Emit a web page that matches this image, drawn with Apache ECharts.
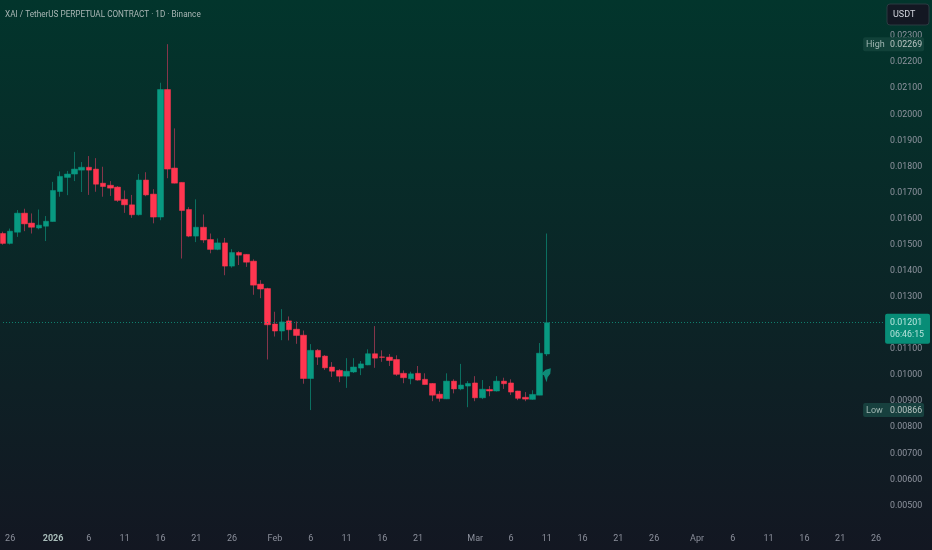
<!DOCTYPE html>
<html><head><meta charset="utf-8">
<style>html,body{margin:0;padding:0;background:#131722}#c{width:932px;height:550px}</style>
<script src="https://cdn.jsdelivr.net/npm/echarts@6/dist/echarts.min.js"></script>
</head><body><div id="c"></div>
<script>
// Daily bars, one per day, first bar = 25 Dec 2025
var openPrices = [.01543,.01505,.01548,.01621,.01583,.01564,.01571,.01589,.01704,.01758,.01771,.01786,.01797,.01790,.01736,.01728,.01721,.01674,.01653,.01615,.01748,.01694,.01606,.02095,.01794,.01739,.01635,.01533,.01567,.01520,.01482,.01507,.01418,.01470,.01463,.01437,.01349,.01332,.01196,.01169,.01208,.01176,.01153,.00987,.01095,.01073,.01031,.01018,.00996,.01012,.01027,.01039,.01082,.01070,.01069,.01060,.01007,.00986,.01007,.00984,.00968,.00927,.00909,.00977,.00947,.00958,.00970,.00913,.00945,.00939,.00977,.00970,.00939,.00915,.00907,.00923,.01081];
var closePrices = [.01505,.01552,.01621,.01580,.01567,.01575,.01590,.01708,.01762,.01771,.01790,.01797,.01786,.01732,.01723,.01717,.01670,.01653,.01615,.01748,.01691,.01606,.02095,.01790,.01736,.01631,.01533,.01567,.01518,.01482,.01507,.01418,.01470,.01460,.01433,.01345,.01330,.01193,.01169,.01204,.01174,.01152,.00987,.01095,.01069,.01028,.01015,.00996,.01015,.01031,.01043,.01082,.01065,.01068,.01056,.01003,.00990,.01005,.00981,.00964,.00923,.00911,.00977,.00947,.00962,.00968,.00913,.00946,.00939,.00977,.00967,.00935,.00911,.00908,.00926,.01084,.01201];
var lowPrices = [.01500,.01501,.01530,.01552,.01543,.01559,.01514,.01589,.01684,.01690,.01744,.01702,.01691,.01703,.01684,.01687,.01664,.01622,.01603,.01612,.01686,.01582,.01594,.01755,.01735,.01447,.01529,.01510,.01507,.01467,.01479,.01383,.01412,.01422,.01415,.01308,.01295,.01060,.01148,.01134,.01133,.01120,.00967,.00866,.01039,.01020,.00993,.00973,.00951,.01008,.01000,.01038,.01028,.01051,.01035,.00997,.00969,.00965,.00979,.00964,.00900,.00898,.00908,.00930,.00942,.00877,.00900,.00908,.00919,.00937,.00947,.00924,.00904,.00900,.00906,.00923,.01073];
var highPrices = [.01550,.01562,.01633,.01638,.01620,.01635,.01610,.01741,.01781,.01783,.01856,.01817,.01840,.01832,.01799,.01744,.01725,.01708,.01691,.01771,.01778,.01713,.02121,.02269,.01946,.01739,.01644,.01674,.01616,.01543,.01524,.01526,.01483,.01475,.01464,.01444,.01364,.01335,.01243,.01253,.01225,.01206,.01171,.01119,.01100,.01077,.01050,.01023,.01065,.01065,.01054,.01099,.01188,.01095,.01081,.01076,.01018,.01013,.01035,.01007,.00969,.00939,.01007,.00984,.01043,.00977,.00996,.00981,.00958,.00996,.00990,.00984,.00940,.00935,.00942,.01123,.01543];
// Date label for each day slot; blank days carry no tick label
var dayLabels = ['','26','','','','','','2026','','','','','6','','','','','11','','','','','16','','','','','21','','','','','26','','','','','','Feb','','','','','6','','','','','11','','','','','16','','','','','21','','','','','','','','Mar','','','','','6','','','','','11','','','','','16','','','','','21','','','','','26','','','','','','Apr','','','','','6','','','','','11','','','','','16','','','','','21','','','','','26',''];
var priceTicks = {min:0.004,max:0.024,step:0.001};
var lastPrice = 0.01201, countdown = '06:46:15', highPrice = 0.02269, lowPrice = 0.00866;
var chartTitle = 'XAI / TetherUS PERPETUAL CONTRACT · 1D · Binance';

var UP='#089981',DOWN='#ff3650',UPW='#0b6f60',DOWNW='#85354a';
var idx = dayLabels.map(function(_,i){return i;});
function cand(clamp){return openPrices.map(function(o,i){var c=closePrices[i];
  return clamp?[o,c,Math.min(o,c),Math.max(o,c)]:[o,c,lowPrices[i],highPrices[i]];});}
var chart=echarts.init(document.getElementById('c'),null,{renderer:'canvas'});
var FONT='Roboto, sans-serif';
function tag(name,val,bg){return {yAxis:val,lineStyle:{color:'transparent',width:0},symbol:'none',
  label:{show:true,position:'end',distance:0,offset:[-20,0],formatter:'{a|'+name+'}{b|'+val.toFixed(5)+'}',
    backgroundColor:bg,padding:[3,2,2,3],borderRadius:2,
    rich:{a:{color:'#9fb6b2',fontSize:9,fontFamily:FONT,width:24},b:{color:'#b9c4c2',fontSize:8.8,fontFamily:FONT}}}};}
chart.setOption({
  animation:false,
  backgroundColor:new echarts.graphic.LinearGradient(0,0,0,1,[{offset:0,color:'#02352c'},{offset:1,color:'#131722'}]),
  title:{text:chartTitle,left:0,top:6,padding:[5,5],textStyle:{color:'#a9b6b4',fontSize:8.2,fontWeight:'normal',fontFamily:FONT}},
  grid:{left:0,top:10,width:883.1,height:521.6},
  xAxis:{type:'category',data:idx,boundaryGap:false,axisLine:{show:false},axisTick:{show:false},splitLine:{show:false},
    axisLabel:{interval:0,margin:3,color:'#8b8f9b',fontSize:9,fontFamily:FONT,hideOverlap:false,showMinLabel:true,showMaxLabel:true,
      formatter:function(v){var s=dayLabels[+v];return s==='2026'?'{y|2026}':s;},
      rich:{y:{color:'#a9bdba',fontWeight:'bold',fontSize:9,fontFamily:FONT}}}},
  yAxis:{type:'value',position:'right',min:priceTicks.min,max:priceTicks.max,interval:priceTicks.step,scale:false,
    splitLine:{show:false},axisLine:{show:false},axisTick:{show:false},
    axisLabel:{inside:false,margin:7,color:'#8f949f',fontSize:8.8,fontFamily:FONT,padding:[2,0,0,0],
      formatter:function(v){return (v<=priceTicks.min||v>=priceTicks.max)?'':v.toFixed(5);}}},
  series:[
   {type:'candlestick',name:'wick',barWidth:1,data:cand(false),
    itemStyle:{color:UPW,color0:DOWNW,borderColor:UPW,borderColor0:DOWNW,borderWidth:1},z:2},
   {type:'candlestick',name:'body',barWidth:6,data:cand(true),
    itemStyle:{color:UP,color0:DOWN,borderColor:UP,borderColor0:DOWN,borderWidth:0.5},z:3,
    markLine:{silent:true,symbol:'none',animation:false,precision:5,z:6,
      data:[
       {yAxis:lastPrice,lineStyle:{color:'#0f8a75',type:[1,2],width:1,opacity:.9},
        label:{show:true,position:'end',distance:2,offset:[0,6],formatter:lastPrice.toFixed(5)+'\n'+countdown,
          color:'#c8ece5',backgroundColor:UP,padding:[3,6,3,5],fontSize:8.8,lineHeight:12,fontFamily:FONT,borderRadius:2}},
       tag('High',highPrice,'#114139'),tag('Low',lowPrice,'#17403e')]},
    markPoint:{silent:true,animation:false,z:7,data:[{
      coord:[idx[76],0.01003],symbol:'path://M9.5 0 L4.5 1.5 L0 6 L3 7 L5.5 14 L6.5 9 L9 5.5 Z',symbolSize:[10,14],symbolOffset:[-1,1],
      itemStyle:{color:'#0e8c78'},label:{show:false}}]}}
  ],
  graphic:[
    {type:'rect',shape:{x:887,y:4,width:42,height:21,r:3},style:{fill:'#131722',stroke:'#2a3a40',lineWidth:1},z:10},
    {type:'text',x:893,y:10,style:{text:'USDT',fill:'#d1d4dc',font:'9px '+FONT},z:11}
  ]
});
</script></body></html>
